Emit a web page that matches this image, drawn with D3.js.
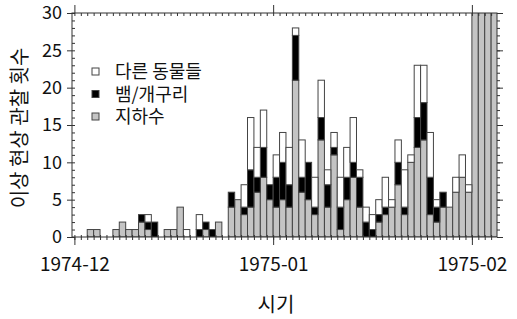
<!DOCTYPE html>
<html>
<head>
<meta charset="utf-8">
<script src="https://cdn.jsdelivr.net/npm/d3@7"></script>
<style>
body { margin: 0; background: #fff; }
text { font-family: "Noto Sans CJK KR", sans-serif; fill: #111; }
</style>
</head>
<body>
<script>
// daily counts starting 1974-12-01
var firstDay = "1974-12-01";
var groundwater = [0,0,1,1,0,0,1,2,1,1, 2,1,0,0,1,1,4,0,0,0, 1,0,2,0,4,5,3,4,6,8,
    5,4,5,4,21,6,5,3,13,4, 11,1,5,8,4,0,0,2,3,4, 7,3,10,12,13,3,2,4,4,6, 8,6,40,40,40,40];
var snakesFrogs = [0,0,0,0,0,0,0,0,0,0, 1,1,2,0,0,0,0,0,0,1, 1,1,0,0,2,0,1,5,2,4,
    2,4,5,3,6,2,5,1,3,3, 1,3,3,2,4,2,1,1,1,0, 3,1,0,4,5,5,2,2,0,0, 0,0,0,0,0,0];
var otherAnimals = [0,0,0,0,0,0,0,0,0,0, 0,1,0,0,0,0,0,1,0,2, 0,0,0,0,0,0,3,7,4,5,
    0,3,4,5,1,5,0,4,5,2, 2,4,4,6,1,2,2,2,4,1, 3,5,1,7,5,6,1,0,0,2, 3,1,0,0,0,0];
var seriesKeys = ["지하수", "뱀/개구리", "다른 동물들"];
var seriesColors = ["#c4c4c4", "#000000", "#ffffff"];
var monthTicks = ["1974-12-01", "1975-01-01", "1975-02-01"];
var yTicks = [0, 5, 10, 15, 20, 25, 30];

var width = 517, height = 319;
var plotLeft = 72, plotRight = 497, plotTop = 13, plotBottom = 237;

var parse = d3.utcParse("%Y-%m-%d");
var start = parse(firstDay);
var days = d3.utcDay.range(start, d3.utcDay.offset(start, groundwater.length));

var rows = days.map(function(d, i) {
    var r = { day: d };
    r[seriesKeys[0]] = groundwater[i];
    r[seriesKeys[1]] = snakesFrogs[i];
    r[seriesKeys[2]] = otherAnimals[i];
    return r;
});

var stacked = d3.stack().keys(seriesKeys)(rows);

var xScale = d3.scaleUtc()
    .domain([d3.utcHour.offset(start, -9), d3.utcHour.offset(parse("1975-02-04"), 22)])
    .range([plotLeft, plotRight]);
var yScale = d3.scaleLinear().domain([0, 30]).range([plotBottom, plotTop]);

var svg = d3.select("body").append("svg").attr("width", width).attr("height", height);

svg.append("clipPath").attr("id", "plot")
    .append("rect").attr("x", plotLeft).attr("y", plotTop)
    .attr("width", plotRight - plotLeft).attr("height", plotBottom - plotTop);

svg.append("g")
    .attr("clip-path", "url(#plot)")
    .selectAll("g")
    .data(stacked)
    .enter()
    .append("g")
    .attr("fill", function(d, i) { return seriesColors[i]; })
    .selectAll("rect")
    .data(function(d) { return d.filter(function(p) { return p[1] > p[0]; }); })
    .enter()
    .append("rect")
    .attr("x", function(d) { return xScale(d.data.day); })
    .attr("width", function(d) { return xScale(d3.utcDay.offset(d.data.day, 1)) - xScale(d.data.day); })
    .attr("y", function(d) { return yScale(d[1]); })
    .attr("height", function(d) { return yScale(d[0]) - yScale(d[1]); })
    .attr("stroke", "#444")
    .attr("stroke-width", 1);

// frame
svg.append("rect")
    .attr("x", plotLeft).attr("y", plotTop)
    .attr("width", plotRight - plotLeft).attr("height", plotBottom - plotTop)
    .attr("fill", "none").attr("stroke", "#333").attr("stroke-width", 1);

var months = monthTicks.map(parse);
var yMinor = d3.range(0, 31);

function tidy(g) {
    g.select(".domain").remove();
    g.selectAll("line").attr("stroke", "#333");
}

// bottom
svg.append("g").attr("transform", "translate(0," + plotBottom + ")")
    .call(d3.axisBottom(xScale).tickValues(days).tickSize(3).tickFormat(""))
    .call(tidy);
svg.append("g").attr("transform", "translate(0," + plotBottom + ")")
    .call(d3.axisTop(xScale).tickValues(days).tickSize(2).tickFormat(""))
    .call(tidy);
svg.append("g").attr("transform", "translate(0," + plotBottom + ")")
    .call(d3.axisBottom(xScale).tickValues(months).tickSize(8).tickPadding(13)
        .tickFormat(d3.utcFormat("%Y-%m")))
    .call(tidy)
    .selectAll("text").style("font-size", "19px");

// top
svg.append("g").attr("transform", "translate(0," + plotTop + ")")
    .call(d3.axisBottom(xScale).tickValues(days).tickSize(3).tickFormat(""))
    .call(tidy);
svg.append("g").attr("transform", "translate(0," + plotTop + ")")
    .call(d3.axisTop(xScale).tickValues(months).tickSize(8).tickFormat(""))
    .call(tidy);

// left
svg.append("g").attr("transform", "translate(" + plotLeft + ",0)")
    .call(d3.axisRight(yScale).tickValues(yMinor).tickSize(3).tickFormat(""))
    .call(tidy);
svg.append("g").attr("transform", "translate(" + plotLeft + ",0)")
    .call(d3.axisLeft(yScale).tickValues(yTicks).tickSize(5).tickPadding(5))
    .call(tidy)
    .selectAll("text").style("font-size", "18px");

// right
svg.append("g").attr("transform", "translate(" + plotRight + ",0)")
    .call(d3.axisRight(yScale).tickValues(yMinor).tickSize(3).tickFormat(""))
    .call(tidy);
svg.append("g").attr("transform", "translate(" + plotRight + ",0)")
    .call(d3.axisRight(yScale).tickValues(yTicks).tickSize(6).tickFormat(""))
    .call(tidy);

// axis titles
svg.append("text")
    .attr("x", 276).attr("y", 312)
    .attr("text-anchor", "middle")
    .style("font-size", "20px")
    .text("시기");

svg.append("text")
    .attr("transform", "translate(27,128) rotate(-90)")
    .attr("text-anchor", "middle")
    .style("font-size", "20px")
    .text("이상 현상 관찰 횟수");

// legend
var legendOrder = [2, 1, 0];
var legend = svg.append("g")
    .selectAll("g")
    .data(legendOrder)
    .enter()
    .append("g")
    .attr("transform", function(d, i) { return "translate(92," + (68 + i * 22.5) + ")"; });

legend.append("rect")
    .attr("width", 7).attr("height", 7)
    .attr("fill", function(d) { return seriesColors[d]; })
    .attr("stroke", "#444");

legend.append("text")
    .attr("x", 23).attr("y", 4)
    .attr("dy", "0.35em")
    .style("font-size", "18px")
    .text(function(d) { return seriesKeys[d]; });
</script>
</body>
</html>
